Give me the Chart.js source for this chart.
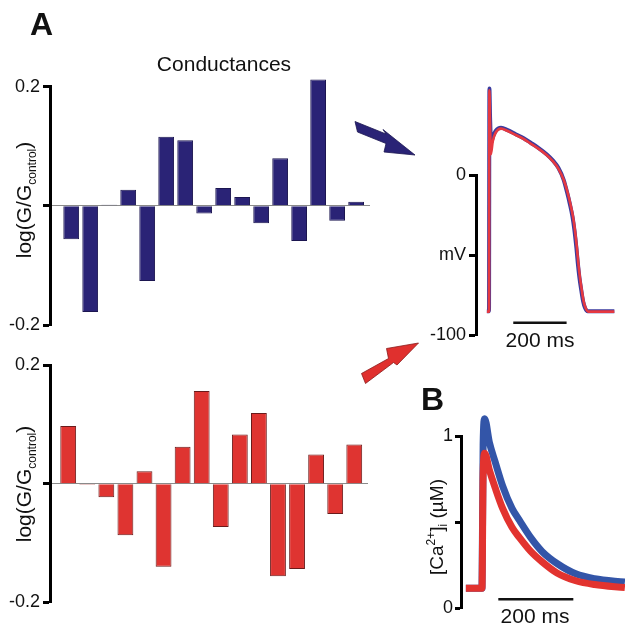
<!DOCTYPE html>
<html><head><meta charset="utf-8">
<script src="https://cdn.jsdelivr.net/npm/chart.js@4.4.1/dist/chart.umd.min.js"></script>
<style>
html,body{margin:0;padding:0;background:#fff;}
body{width:625px;height:625px;position:relative;overflow:hidden;font-family:"Liberation Sans",Arial,sans-serif;color:#111;}
canvas{position:absolute;}
.t{position:absolute;white-space:nowrap;line-height:1;}
.rot{position:absolute;white-space:nowrap;line-height:1;transform:translate(-50%,-50%) rotate(-90deg);}
sub,sup{line-height:0;}
</style></head><body>
<canvas id="gTop" width="380" height="280" style="left:0;top:67px"></canvas>
<canvas id="gBot" width="380" height="278" style="left:0;top:345px"></canvas>
<canvas id="ap" width="215" height="275" style="left:410px;top:80px"></canvas>
<canvas id="ca" width="225" height="225" style="left:400px;top:400px"></canvas>

<svg width="625" height="625" style="position:absolute;left:0;top:0;pointer-events:none">
  <polygon points="355,121.5 386,134 383,129.5 415,155 384,152 386,143.5 357.5,132" fill="#2a2376" stroke="#1c1650" stroke-width="0.8"/>
  <polygon points="361.5,373.5 388.5,358.5 386.5,348.5 418.5,343 397,365 393.5,362.5 365.5,383.5" fill="#e0302e" stroke="#8a1c1c" stroke-width="0.8"/>
</svg>

<div class="t" style="left:30px;top:8px;font-size:32px;font-weight:bold;">A</div>
<div class="t" style="left:421px;top:383px;font-size:32px;font-weight:bold;">B</div>
<div class="t" style="left:224px;top:52.8px;font-size:21px;transform:translateX(-50%);">Conductances</div>
<div class="rot" style="left:23px;top:200px;font-size:21px;">log(G/G<sub style="font-size:12px;">control</sub>)</div>
<div class="rot" style="left:23px;top:484px;font-size:21px;">log(G/G<sub style="font-size:12px;">control</sub>)</div>
<div class="t" style="left:540px;top:329px;font-size:21px;transform:translateX(-50%);">200 ms</div>
<div class="t" style="left:535px;top:605px;font-size:21px;transform:translateX(-50%);">200 ms</div>
<div class="rot" style="left:436px;top:527px;font-size:19px;">[Ca<sup style="font-size:12px;">2+</sup>]<sub style="font-size:12px;">i</sub> (µM)</div>

<script>
// ---- data ----
const conductances = ['g1','g2','g3','g4','g5','g6','g7','g8','g9','g10','g11','g12','g13','g14','g15','g16'];
const gBlue = [-0.056, -0.178, 0.002, 0.027, -0.126, 0.116, 0.110, -0.013, 0.030, 0.015, -0.029, 0.080, -0.059, 0.212, -0.025, 0.007];
const gRed  = [0.097, -0.002, -0.023, -0.087, 0.021, -0.140, 0.062, 0.156, -0.073, 0.083, 0.119, -0.156, -0.144, 0.049, -0.051, 0.066];
const barTickValues = [-0.2, 0, 0.2];
const barTickLabels = ['-0.2', '', '0.2'];

const apTimeRed = [-8, 0, 1.5, 4, 7, 14, 25, 45, 70, 100, 130, 155, 185, 216, 240, 260, 280, 295, 305, 315, 322, 330, 335, 341, 348, 355, 362, 372, 470];
const apRed     = [-85.4, -85.4, 53, 32, 13, 21, 26.5, 29, 27.5, 25, 22.5, 19.8, 16.5, 12.5, 8.5, 4, -3, -11, -18, -26, -34, -46, -55, -64, -72, -79, -83, -85.4, -85.4];
const apTimeBlue = [-8, 0, 1.5, 4, 8, 14, 25, 45, 70, 100, 130, 155, 185, 216, 240, 260, 280, 293, 303, 313, 320, 328, 333, 339, 346, 353, 360, 370, 470];
const apBlue     = [-85.2, -85.2, 54, 36, 20, 23.5, 27.5, 29.5, 28, 25.5, 23, 20.3, 17, 13, 9, 4.5, -3, -11, -18, -26, -34, -46, -55, -64, -72, -79, -83, -85.2, -85.2];
const apTickValues = [-100, -50, 0];
const apTickLabels = ['-100', 'mV', '0'];
const apScaleBarTime = [91, 291];
const apScaleBarLevel = -92.3;

const caTime = [-43, 0, 3, 7, 20, 35, 55, 80, 100, 130, 160, 200, 250, 300, 381];
const caBlue = [0.116, 0.116, 0.95, 1.10, 0.96, 0.85, 0.71, 0.58, 0.51, 0.41, 0.33, 0.26, 0.20, 0.172, 0.152];
const caRed  = [0.116, 0.116, 0.78, 0.90, 0.80, 0.70, 0.58, 0.47, 0.41, 0.33, 0.27, 0.205, 0.16, 0.138, 0.12];
const caTickValues = [0, 0.5, 1];
const caTickLabels = ['0', '', '1'];
const caScaleBarTime = [43.5, 243.5];
const caScaleBarLevel = 0.052;

// ---- helpers ----
const FONT = {family: '"Liberation Sans", Arial, sans-serif', size: 18};
function yAxis(min, max, vals, labels, width, tickLen, pad, zeroLine) {
  return {
    min, max,
    afterBuildTicks: s => { s.ticks = vals.map(v => ({value: v})); },
    afterFit: s => { s.width = width; },
    ticks: {font: FONT, color: '#111', padding: pad, callback: (v, i) => labels[i]},
    border: {display: true, color: '#000', width: 3},
    grid: {
      drawOnChartArea: !!zeroLine, drawTicks: true, tickLength: tickLen, tickWidth: 3, tickColor: '#000',
      color: ctx => (zeroLine && ctx.tick && ctx.tick.value === 0) ? '#8a8a8a' : 'rgba(0,0,0,0)',
      lineWidth: 1
    }
  };
}
const basePlugins = {legend: {display: false}, tooltip: {enabled: false}};

function barChart(id, vals, fill, edge, xmin, xmax, pad) {
  new Chart(document.getElementById(id), {
    type: 'bar',
    data: {datasets: [{
      data: conductances.map((c, i) => ({x: i + 1, y: vals[i]})),
      backgroundColor: fill, borderColor: edge, borderWidth: 1,
      barPercentage: 0.83, categoryPercentage: 1, clip: false
    }]},
    options: {
      responsive: false, animation: false, devicePixelRatio: 1,
      layout: {padding: pad},
      plugins: basePlugins,
      scales: {
        x: {type: 'linear', min: xmin, max: xmax, offset: false, display: false, grid: {offset: false}},
        y: yAxis(-0.2, 0.2, barTickValues, barTickLabels, 50, 7, 3, true)
      }
    }
  });
}
barChart('gTop', gBlue, '#2a2376', '#1c1650', -0.116, 16.73, {top: 19.7, bottom: 22, left: 0, right: 10});
barChart('gBot', gRed, '#df3431', '#6a1b1b', 0.046, 16.72, {top: 20, bottom: 20.7, left: 0, right: 12});

function pts(t, v) { return t.map((x, i) => ({x, y: v[i]})); }
const lineDs = (data, color, w) => ({data, borderColor: color, borderWidth: w, pointRadius: 0,
  cubicInterpolationMode: 'monotone', borderJoinStyle: 'round', clip: false, fill: false});

new Chart(document.getElementById('ap'), {
  type: 'line',
  data: {datasets: [
    lineDs(pts(apTimeRed, apRed), '#e63940', 2.6),
    lineDs(pts(apTimeBlue, apBlue), '#3b3b9e', 4),
    {data: apScaleBarTime.map(x => ({x, y: apScaleBarLevel})), borderColor: '#111', borderWidth: 2.5, pointRadius: 0, clip: false}
  ]},
  options: {
    responsive: false, animation: false, devicePixelRatio: 1,
    layout: {padding: {top: 95, bottom: 20, left: 0, right: 5}},
    plugins: basePlugins,
    scales: {
      x: {type: 'linear', min: -48.75, max: 491.25, display: false},
      y: yAxis(-100, 0, apTickValues, apTickLabels, 66, 7, 3, false)
    }
  }
});

new Chart(document.getElementById('ca'), {
  type: 'line',
  data: {datasets: [
    lineDs(pts(caTime, caRed), '#e2332f', 7),
    lineDs(pts(caTime, caBlue), '#3355a8', 7),
    {data: caScaleBarTime.map(x => ({x, y: caScaleBarLevel})), borderColor: '#111', borderWidth: 2.5, pointRadius: 0, clip: false}
  ]},
  options: {
    responsive: false, animation: false, devicePixelRatio: 1,
    layout: {padding: {top: 36, bottom: 16.7, left: 0, right: 0}},
    plugins: basePlugins,
    scales: {
      x: {type: 'linear', min: -56, max: 381.3, display: false},
      y: yAxis(0, 1, caTickValues, caTickLabels, 61, 6, 2, false)
    }
  }
});
</script>
</body></html>
